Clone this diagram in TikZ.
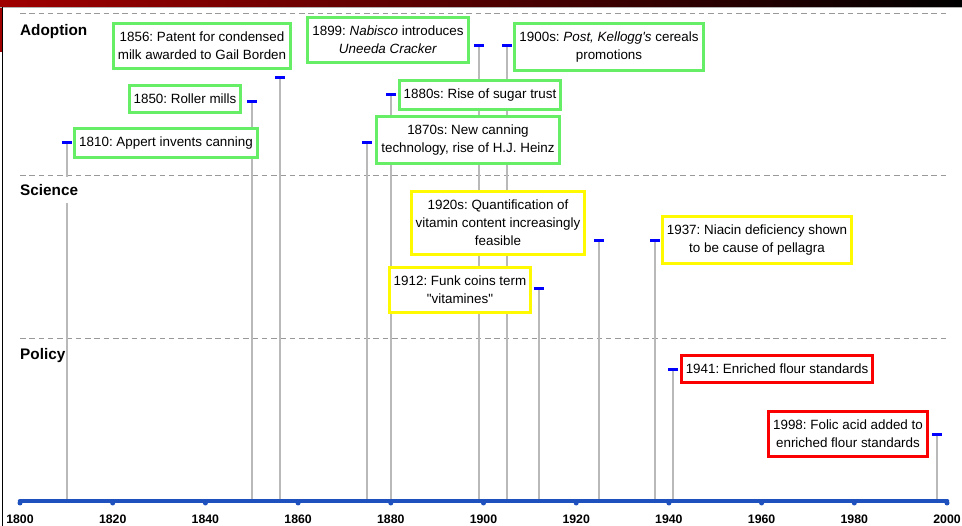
\documentclass[tikz,border=0pt]{standalone}
\usepackage{fontspec}
\setmainfont{Liberation Sans}[Ligatures=TeXOff]
\frenchspacing

\definecolor{adoptColor}{RGB}{102,238,102}
\definecolor{scienceColor}{RGB}{255,250,0}
\definecolor{policyColor}{RGB}{250,0,0}
\definecolor{axisColor}{RGB}{30,80,190}
\definecolor{stemColor}{RGB}{185,185,185}
\definecolor{barRed}{RGB}{160,0,0}

\tikzset{
  event/.style={draw, line width=3pt, fill=white, align=center,
    inner xsep=4.5pt, inner ysep=8.3pt, font=\fontsize{13.4}{18}\selectfont},
  adopt/.style={event, draw=adoptColor},
  science/.style={event, draw=scienceColor},
  policy/.style={event, draw=policyColor},
  stem/.style={draw=stemColor, line width=1.3pt},
  tickmark/.style={fill=blue, minimum width=10pt, minimum height=3pt, inner sep=0pt},
  sectionlbl/.style={anchor=west, fill=white, inner xsep=1pt, minimum height=26pt,
    font=\fontsize{15.3}{18}\selectfont\bfseries},
  yearlbl/.style={font=\fontsize{12.3}{14}\selectfont\bfseries},
  sepline/.style={draw=gray!80, line width=0.9pt, dash pattern=on 5.5pt off 3.8pt},
  axisline/.style={draw=axisColor, line width=4.5pt, line cap=round}
}

\begin{document}
\begin{tikzpicture}[x=1pt,y=-1pt]
  \useasboundingbox (0,0) rectangle (962,526);
  % frame
  \shade[left color=barRed, right color=black] (0,0) rectangle (962,6.5);
  \fill[barRed] (0,6.5) rectangle (1.5,52);
  \draw[gray!60, line width=0.8pt] (0,7) -- (962,7);
  \draw[black, line width=1.2pt] (2.2,7) -- (2.2,526);

  % section separators
  \draw[sepline] (20,13) -- (947,13);
  \draw[sepline] (20,175) -- (947,175);
  \draw[sepline] (20,338) -- (947,338);

  % marker tops and axis feet
  \coordinate (t1810) at (67,143);   \coordinate (a1810) at (67,501);
  \coordinate (t1850) at (252,102);  \coordinate (a1850) at (252,501);
  \coordinate (t1856) at (280,78);   \coordinate (a1856) at (280,501);
  \coordinate (t1875) at (367,143);  \coordinate (a1875) at (367,501);
  \coordinate (t1880) at (391,95);   \coordinate (a1880) at (391,501);
  \coordinate (t1899) at (479,46);   \coordinate (a1899) at (479,501);
  \coordinate (t1905) at (507,46);   \coordinate (a1905) at (507,501);
  \coordinate (t1912) at (539,289);  \coordinate (a1912) at (539,501);
  \coordinate (t1925) at (599,241);  \coordinate (a1925) at (599,501);
  \coordinate (t1937) at (655,241);  \coordinate (a1937) at (655,501);
  \coordinate (t1941) at (673,370);  \coordinate (a1941) at (673,501);
  \coordinate (t1998) at (937,435);  \coordinate (a1998) at (937,501);

  % stems
  \draw[stem] (t1810) -- (a1810);
  \draw[stem] (t1850) -- (a1850);
  \draw[stem] (t1856) -- (a1856);
  \draw[stem] (t1875) -- (a1875);
  \draw[stem] (t1880) -- (a1880);
  \draw[stem] (t1899) -- (a1899);
  \draw[stem] (t1905) -- (a1905);
  \draw[stem] (t1912) -- (a1912);
  \draw[stem] (t1925) -- (a1925);
  \draw[stem] (t1937) -- (a1937);
  \draw[stem] (t1941) -- (a1941);
  \draw[stem] (t1998) -- (a1998);

  % blue markers
  \node[tickmark] (k1810) at (t1810) {};
  \node[tickmark] (k1850) at (t1850) {};
  \node[tickmark] (k1856) at (t1856) {};
  \node[tickmark] (k1875) at (t1875) {};
  \node[tickmark] (k1880) at (t1880) {};
  \node[tickmark] (k1899) at (t1899) {};
  \node[tickmark] (k1905) at (t1905) {};
  \node[tickmark] (k1912) at (t1912) {};
  \node[tickmark] (k1925) at (t1925) {};
  \node[tickmark] (k1937) at (t1937) {};
  \node[tickmark] (k1941) at (t1941) {};
  \node[tickmark] (k1998) at (t1998) {};

  % section labels
  \node[sectionlbl] (adoption) at (19,31.5) {Adoption};
  \node[sectionlbl] (science) at (19,190) {Science};
  \node[sectionlbl] (policy) at (19,355.5) {Policy};

  % Adoption
  \node[adopt] (e1810) at (166,143) {1810: Appert invents canning};
  \node[adopt] (e1850) at (185,99) {1850: Roller mills};
  \node[adopt] (e1856) at (202,46) {1856: Patent for condensed\\milk awarded to Gail Borden};
  \node[adopt] (e1870) at (468,140) {1870s: New canning\\technology, rise of H.J. Heinz};
  \node[adopt] (e1880) at (480,95) {1880s: Rise of sugar trust};
  \node[adopt] (e1899) at (388,40) {1899: \textit{Nabisco} introduces\\\textit{Uneeda Cracker}};
  \node[adopt] (e1900) at (609,47) {1900s: \textit{Post, Kellogg's} cereals\\promotions};
  % Science
  \node[science] (e1920) at (498,223) {1920s: Quantification of\\vitamin content increasingly\\feasible};
  \node[science] (e1912) at (460,290) {1912: Funk coins term\\"vitamines"};
  \node[science] (e1937) at (757,240) {1937: Niacin deficiency shown\\to be cause of pellagra};
  % Policy
  \node[policy] (e1941) at (777,369) {1941: Enriched flour standards};
  \node[policy] (e1998) at (848,434) {1998: Folic acid added to\\enriched flour standards};

  % time axis
  \coordinate (ax0) at (20,501);
  \coordinate (ax1) at (947,501);
  \draw[axisline] (ax0) -- (ax1);
  \fill[axisColor] (20,503) circle (2.5);
  \fill[axisColor] (112.7,503) circle (2.5);
  \fill[axisColor] (205.4,503) circle (2.5);
  \fill[axisColor] (298.1,503) circle (2.5);
  \fill[axisColor] (390.8,503) circle (2.5);
  \fill[axisColor] (483.5,503) circle (2.5);
  \fill[axisColor] (576.2,503) circle (2.5);
  \fill[axisColor] (668.9,503) circle (2.5);
  \fill[axisColor] (761.6,503) circle (2.5);
  \fill[axisColor] (854.3,503) circle (2.5);
  \fill[axisColor] (947,503) circle (2.5);
  \node[yearlbl] (y1800) at (20,519) {1800};
  \node[yearlbl] (y1820) at (112.7,519) {1820};
  \node[yearlbl] (y1840) at (205.4,519) {1840};
  \node[yearlbl] (y1860) at (298.1,519) {1860};
  \node[yearlbl] (y1880) at (390.8,519) {1880};
  \node[yearlbl] (y1900) at (483.5,519) {1900};
  \node[yearlbl] (y1920) at (576.2,519) {1920};
  \node[yearlbl] (y1940) at (668.9,519) {1940};
  \node[yearlbl] (y1960) at (761.6,519) {1960};
  \node[yearlbl] (y1980) at (854.3,519) {1980};
  \node[yearlbl] (y2000) at (947,519) {2000};
\end{tikzpicture}
\end{document}
